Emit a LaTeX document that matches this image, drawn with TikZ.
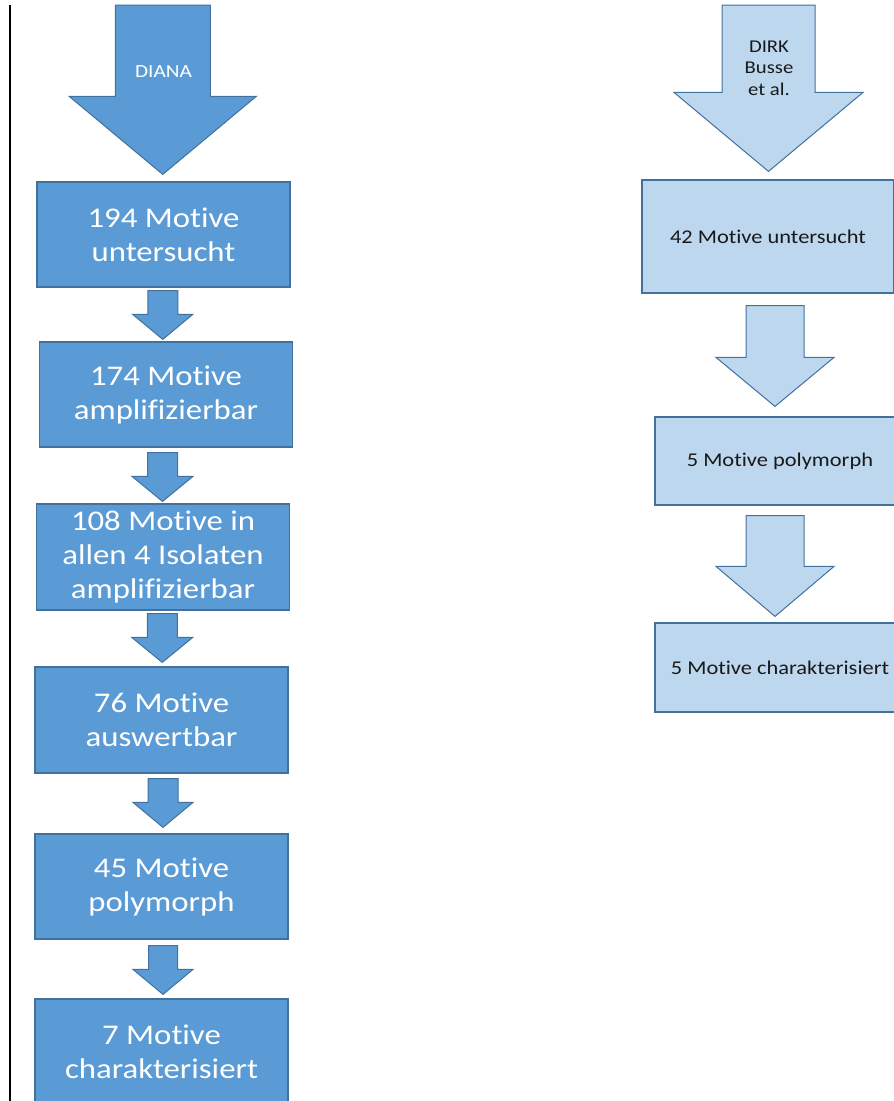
\documentclass[tikz,border=0pt]{standalone}
\usepackage{fontspec}
\setmainfont{Carlito}[FakeStretch=1.15, Ligatures=CommonOff]
\usetikzlibrary{calc}

\definecolor{dianablue}{HTML}{5B9BD5}
\definecolor{dirkblue}{HTML}{BDD7EE}
\definecolor{edgeblue}{HTML}{41719C}

% block arrow: [style]{from}{to}{shaft half width}{head half width}{head length}
\newcommand\flowarrow[6][]{%
  \filldraw[#1] let \p1=#2, \p2=#3, \n1={(\x1+\x2)/2},
      \n2={\y2+#6} in
    (\n1-#4,\y1) -- (\n1+#4,\y1) -- (\n1+#4,\n2) -- (\n1+#5,\n2)
    -- (\n1,\y2) -- (\n1-#5,\n2) -- (\n1-#4,\n2) -- cycle;}

\begin{document}
\begin{tikzpicture}[x=1pt, y=1pt,
    dianabox/.style={draw=edgeblue, line width=1.2pt, fill=dianablue, text=white,
        align=center, minimum width=253pt, minimum height=105pt,
        font=\fontsize{28.5}{34}\selectfont},
    dirkbox/.style={draw=edgeblue, line width=1.2pt, fill=dirkblue, text=black!90,
        align=center, minimum width=250pt, minimum height=88pt,
        font=\fontsize{19.5}{23}\selectfont},
    dianaarrow/.style={draw=edgeblue, line width=1pt, fill=dianablue},
    dirkarrow/.style={draw=edgeblue, line width=1pt, fill=dirkblue}]
    \useasboundingbox (0,0) rectangle (894,-1101);
    \fill[white] (0,0) rectangle (894,-1101);

    % Left margin line
    \draw[line width=1.6pt] (10,-5) -- (10,-1101);

    % DIANA column
    \node[dianabox] at (163.5,-234.5) (b1) {194 Motive\\untersucht};
    \node[dianabox] at (166,-394.5) (b2) {174 Motive\\amplifizierbar};
    \node[dianabox, minimum height=106pt] at (163,-557) (b3) {108 Motive in\\allen 4 Isolaten\\amplifizierbar};
    \node[dianabox, minimum height=106pt] at (161.5,-720) (b4) {76 Motive\\auswertbar};
    \node[dianabox] at (161.5,-886.5) (b5) {45 Motive\\polymorph};
    \node[dianabox] at (161.5,-1051.5) (b6) {7 Motive\\charakterisiert};

    % DIRK column
    \node[dirkbox, minimum width=252pt, minimum height=113pt] at (768,-236.5) (r1) {42 Motive untersucht};
    \node[dirkbox] at (780,-461) (r2) {5 Motive polymorph};
    \node[dirkbox, minimum height=89pt] at (780,-667.5) (r3) {5 Motive charakterisiert};

    % Arrows
    \coordinate (dianatop) at (163,-5);
    \coordinate (dirktop) at (769,-5);
    \flowarrow[dianaarrow]{(dianatop)}{([xshift=-1pt,yshift=7pt]b1.north)}{47.5}{93.5}{78}
    \flowarrow[dianaarrow]{([xshift=-2pt,yshift=-3pt]b1.south)}{([xshift=-2pt,yshift=2pt]b2.north)}{15}{30}{25}
    \flowarrow[dianaarrow]{([xshift=-4pt,yshift=-5pt]b2.south)}{([yshift=2pt]b3.north)}{15}{30.5}{25}
    \flowarrow[dianaarrow]{([yshift=-3pt]b3.south)}{([yshift=4pt]b4.north)}{15}{30.5}{25}
    \flowarrow[dianaarrow]{([xshift=1.5pt,yshift=-5pt]b4.south)}{([xshift=1.5pt,yshift=6pt]b5.north)}{15}{30}{25}
    \flowarrow[dianaarrow]{([xshift=1.5pt,yshift=-6pt]b5.south)}{([xshift=1.5pt,yshift=4pt]b6.north)}{14.5}{30}{25}
    \flowarrow[dirkarrow]{(dirktop)}{([yshift=8pt]r1.north)}{46.5}{94.5}{79}
    \flowarrow[dirkarrow]{([xshift=2pt,yshift=-12pt]r1.south)}{([yshift=10pt]r2.north)}{29}{59}{49}
    \flowarrow[dirkarrow]{([xshift=-5pt,yshift=-10pt]r2.south)}{([xshift=-5pt,yshift=6pt]r3.north)}{29}{59}{50}

    % Arrow labels
    \node[text=white, font=\fontsize{18.5}{22}\selectfont] at (163.5,-72) (diana) {DIANA};
    \node[text=black!90, align=center, font=\fontsize{18}{21.5}\selectfont] at (769,-68) (dirk) {DIRK\\Busse\\et al.};
\end{tikzpicture}
\end{document}
